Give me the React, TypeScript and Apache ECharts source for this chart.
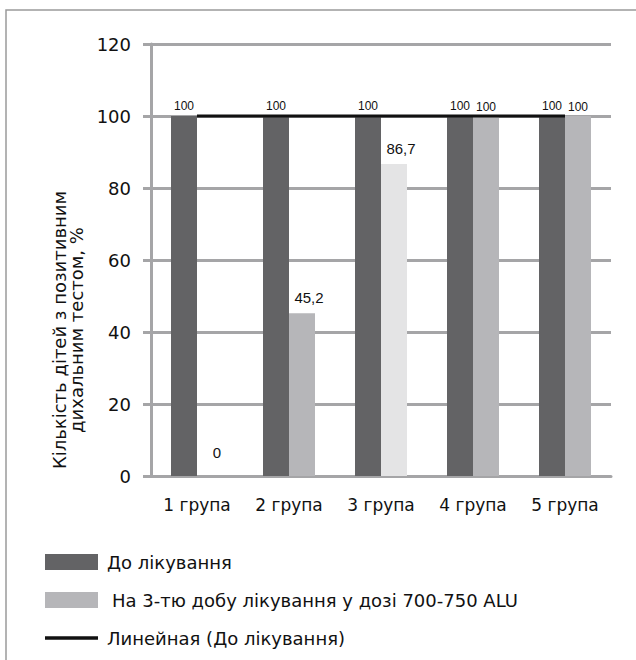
import React, { useEffect, useRef } from "react";
import * as echarts from "echarts";

const categories = ["1 група", "2 група", "3 група", "4 група", "5 група"];
const beforeValues = [100, 100, 100, 100, 100];
const afterValues = [0, 45.2, 86.7, 100, 100];
const trendValues = [100, 100, 100, 100, 100];
const seriesNames = [
  "До лікування",
  "На 3-тю добу лікування у дозі 700-750 ALU",
  "Линейная (До лікування)",
];
const yTicks = { min: 0, max: 120, interval: 20 };
const yAxisTitle = "Кількість дітей з позитивним\nдихальним тестом, %";

const FONT = "'DejaVu Sans', 'Liberation Sans', Arial, sans-serif";
const LFONT = "'Liberation Sans', Arial, Helvetica, sans-serif";
const fmt = (v: number) => String(v).replace(".", ",");

export default function App() {
  const ref = useRef<HTMLDivElement>(null);
  useEffect(() => {
    if (!ref.current) return;
    const chart = echarts.init(ref.current, null, { renderer: "svg" });
    const gridColor = "#a5a5a7";
    chart.setOption({
      animation: false,
      backgroundColor: "#ffffff",
      textStyle: { fontFamily: FONT },
      graphic: [
        {
          type: "rect",
          shape: { x: 6, y: 10, width: 700, height: 700 },
          style: { fill: "none", stroke: "#9a9a9a", lineWidth: 1.5 },
          silent: true,
        },
      ],
      grid: { left: 151, right: 25, top: 44, bottom: 184 },
      legend: {
        orient: "vertical",
        left: 40,
        top: 547,
        itemWidth: 53,
        itemHeight: 16,
        itemGap: 18,
        textStyle: {
          fontSize: 18,
          lineHeight: 20,
          color: "#111",
          fontFamily: FONT,
          padding: [0, 0, 0, 4],
        },
        data: [
          { name: seriesNames[0], icon: "rect" },
          { name: seriesNames[1], icon: "rect", textStyle: { padding: [0, 0, 0, 9] } },
          { name: seriesNames[2], icon: "path://M0,0H100V7H0Z" },
        ],
      },
      xAxis: {
        type: "category",
        data: categories,
        axisLine: { lineStyle: { color: gridColor, width: 3 } },
        axisTick: { show: false },
        axisLabel: {
          interval: 0,
          hideOverlap: false,
          fontSize: 17,
          color: "#111",
          margin: 20,
          fontFamily: FONT,
        },
      },
      yAxis: {
        type: "value",
        min: yTicks.min,
        max: yTicks.max,
        interval: yTicks.interval,
        name: yAxisTitle,
        nameLocation: "middle",
        nameRotate: 90,
        nameGap: 38,
        nameTextStyle: {
          fontSize: 18,
          color: "#111",
          lineHeight: 17,
          fontFamily: FONT,
          padding: [0, 140, 0, 0],
        },
        axisLine: { show: true, lineStyle: { color: gridColor, width: 3 } },
        axisTick: { show: true, length: 8, lineStyle: { color: gridColor, width: 3 } },
        axisLabel: { fontSize: 18, color: "#111", margin: 20, fontFamily: FONT },
        splitLine: { lineStyle: { color: gridColor, width: 3 } },
      },
      series: [
        {
          name: seriesNames[0],
          type: "bar",
          data: beforeValues,
          barWidth: 26,
          barGap: "0%",
          itemStyle: { color: "#636365" },
          label: {
            show: true,
            position: "top",
            distance: 4,
            fontSize: 12,
            fontFamily: LFONT,
            color: "#111",
            formatter: (p: any) => fmt(p.value),
          },
          z: 2,
        },
        {
          name: seriesNames[1],
          type: "bar",
          data: afterValues.map((v, i) => ({
            value: v,
            itemStyle: i === 2 ? { color: "#e4e4e5" } : undefined,
            label:
              v >= 100
                ? { fontSize: 12, distance: 3 }
                : { fontSize: 15, distance: v === 0 ? 16 : 8, offset: [7, 0] },
          })),
          barWidth: 26,
          barGap: "0%",
          itemStyle: { color: "#b6b6b9" },
          label: {
            show: true,
            position: "top",
            color: "#111",
            fontFamily: LFONT,
            formatter: (p: any) => fmt(p.value),
          },
          z: 2,
        },
        {
          name: seriesNames[2],
          type: "line",
          data: trendValues,
          symbol: "none",
          lineStyle: { color: "#111111", width: 3 },
          itemStyle: { color: "#111111" },
          z: 5,
        },
      ],
    });
    return () => chart.dispose();
  }, []);
  return (
    <div
      ref={ref}
      style={{ position: "absolute", left: 0, top: 0, width: 636, height: 660 }}
    />
  );
}
